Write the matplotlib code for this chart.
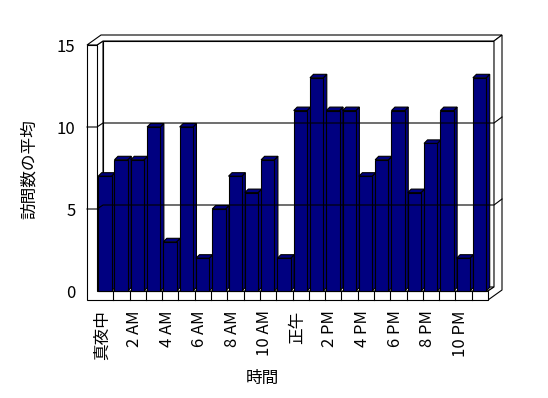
import matplotlib
matplotlib.use('Agg')

import numpy as np
import matplotlib.pyplot as plt
from matplotlib.patches import Polygon

plt.rcParams['font.family'] = ['Noto Sans CJK JP', 'DejaVu Sans']

# 時間ごとの訪問数の平均
hours = np.arange(24)
visits = [7, 8, 8, 10, 3, 10, 2, 5, 7, 6, 8, 2, 11, 13, 11, 11, 7, 8, 11, 6, 9, 11, 2, 13]
tick_labels = ['真夜中', '2 AM', '4 AM', '6 AM', '8 AM', '10 AM',
               '正午', '2 PM', '4 PM', '6 PM', '8 PM', '10 PM']
y_ticks = [0, 5, 10, 15]

W, H = 548, 398
fig = plt.figure(figsize=(W / 100, H / 100), dpi=100)
fig.patch.set_facecolor('white')

# front plane of the plot: x 97..488 px, value 0 at y=291, 15 at y=45
left, right, bottom, top = 97, 488, 291, 45
ax = fig.add_axes([left / W, (H - bottom) / H, (right - left) / W, (bottom - top) / H])
ax.set_xlim(0, 24)
ax.set_ylim(0, 15)
ax.set_facecolor('none')
for s in ax.spines.values():
    s.set_visible(False)

px = 24 / (right - left)   # one pixel in x data units
py = 15 / (bottom - top)   # one pixel in y data units

# depth of floor, thickness of walls (in pixels -> data)
Dx, Dy = 6 * px, 4 * py
Wx, Wy = 8 * px, 6 * py
lw_front = 10 * px
fl_front = 9 * py
Bx, By = 3.5 * px, 3.5 * py
b0, bw = 1.2 * px, 13.3 * px

edge = dict(facecolor='white', edgecolor='black', linewidth=0.8, clip_on=False)
n = len(hours)
ymax = y_ticks[-1]

# back wall inner face
ax.add_patch(Polygon([(Dx, Dy), (n + Dx, Dy), (n + Dx, ymax + Dy), (Dx, ymax + Dy)], **edge))
# left wall inner face
ax.add_patch(Polygon([(0, 0), (Dx, Dy), (Dx, ymax + Dy), (0, ymax)], **edge))
# floor top
ax.add_patch(Polygon([(0, 0), (n, 0), (n + Dx, Dy), (Dx, Dy)], **edge))
# top of walls
ax.add_patch(Polygon([(-lw_front, ymax), (-lw_front + Dx + Wx, ymax + Dy + Wy),
                      (n + Dx + Wx, ymax + Dy + Wy), (n + Dx, ymax + Dy),
                      (Dx, ymax + Dy), (0, ymax)], **edge))
# right side
ax.add_patch(Polygon([(n, 0), (n, -fl_front), (n + Dx + Wx, -fl_front + Dy + Wy),
                      (n + Dx + Wx, ymax + Dy + Wy), (n + Dx, ymax + Dy), (n + Dx, Dy)], **edge))
# left wall front + floor front
ax.add_patch(Polygon([(-lw_front, -fl_front), (n, -fl_front), (n, 0), (0, 0),
                      (0, ymax), (-lw_front, ymax)], **edge))

# floor ticks
for i in hours[1:]:
    ax.plot([i, i], [-fl_front, 0], color='black', lw=0.8, clip_on=False)

# gridlines
for v in y_ticks[1:-1]:
    ax.plot([-lw_front, 0, Dx, n + Dx, n + Dx + Wx],
            [v, v, v + Dy, v + Dy, v + Dy + Wy], color='black', lw=0.8, clip_on=False)

# bars
bar = dict(facecolor='#000080', edgecolor='black', linewidth=0.8, clip_on=False)
for i, v in zip(hours, visits):
    x0 = i + b0
    x1 = x0 + bw
    ax.add_patch(Polygon([(x1, 0), (x1 + Bx, By), (x1 + Bx, v + By), (x1, v)], **bar))
    ax.add_patch(Polygon([(x0, v), (x1, v), (x1 + Bx, v + By), (x0 + Bx, v + By)], **bar))
    ax.add_patch(Polygon([(x0, 0), (x1, 0), (x1, v), (x0, v)], **bar))

# ticks and labels
ax.set_yticks(y_ticks)
ax.set_yticklabels([str(t) for t in y_ticks], fontsize=12)
ax.set_xticks(hours[::2] + 0.3)
ax.set_xticklabels(tick_labels, rotation=90, fontsize=12, va='top')
ax.tick_params(length=0)
ax.tick_params(axis='y', pad=15.5)
ax.tick_params(axis='x', pad=14)

fig.text(262 / W, 1 - 378 / H, '時間', ha='center', va='center', fontsize=12)
fig.text(29 / W, 1 - 169 / H, '訪問数の平均', ha='center', va='center', rotation=90, fontsize=12)

fig.savefig('out.png', dpi=100)
